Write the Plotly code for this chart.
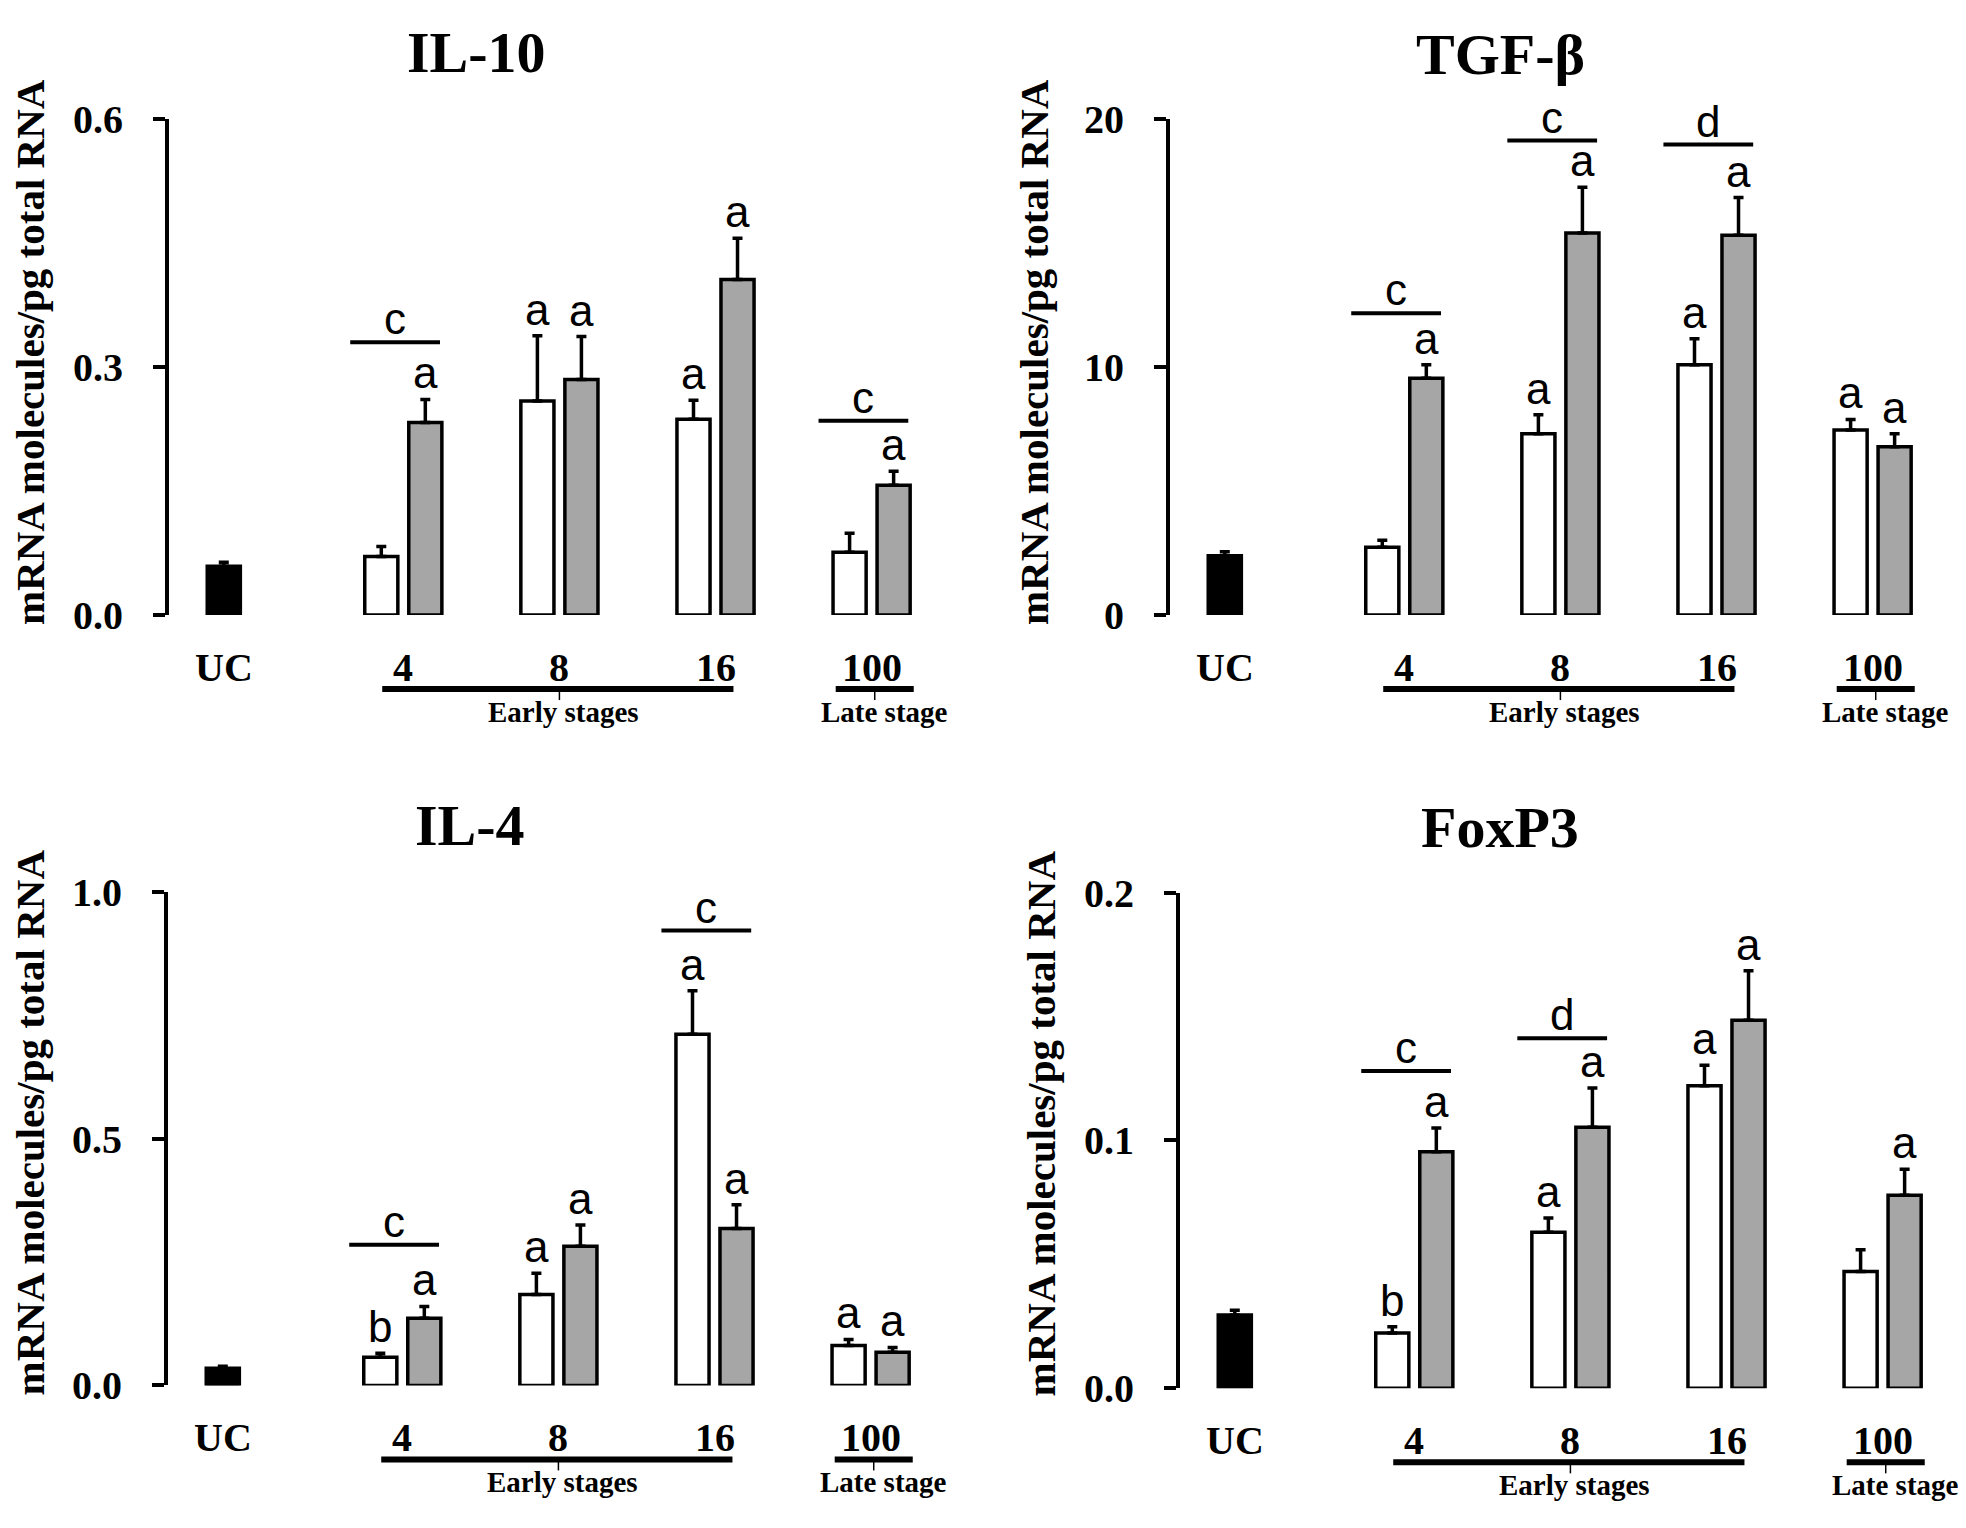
import plotly.graph_objects as go

# The page body has an 8px default margin; the figure is sized to fit the window exactly.
PAGE_W, PAGE_H = 1966, 1528
BODY = 8
W, H = PAGE_W - 2 * BODY, PAGE_H - 2 * BODY

# ---------------- data ----------------
groups = ["4", "8", "16", "100"]
uc_label = "UC"

# IL-10
il10_uc = [0.059]
il10_uc_err = [0.005]
il10_white = [0.071, 0.259, 0.237, 0.076]
il10_white_err = [0.012, 0.079, 0.023, 0.023]
il10_gray = [0.233, 0.285, 0.406, 0.157]
il10_gray_err = [0.028, 0.052, 0.050, 0.017]
il10_white_lbl = ["", "a", "a", ""]
il10_gray_lbl = ["a", "a", "a", "a"]
il10_bracket_lbl = ["c", "", "", "c"]
il10_bracket_y = [0.330, None, None, 0.235]
il10_ticks = [0.0, 0.3, 0.6]
il10_ticktext = ["0.0", "0.3", "0.6"]

# TGF-beta
tgf_uc = [2.39]
tgf_uc_err = [0.16]
tgf_white = [2.74, 7.31, 10.1, 7.46]
tgf_white_err = [0.28, 0.77, 1.05, 0.43]
tgf_gray = [9.55, 15.41, 15.32, 6.79]
tgf_gray_err = [0.55, 1.85, 1.52, 0.52]
tgf_white_lbl = ["", "a", "a", "a"]
tgf_gray_lbl = ["a", "a", "a", "a"]
tgf_bracket_lbl = ["c", "c", "d", ""]
tgf_bracket_y = [12.17, 19.14, 18.98, None]
tgf_ticks = [0, 10, 20]
tgf_ticktext = ["0", "10", "20"]

# IL-4
il4_uc = [0.035]
il4_uc_err = [0.004]
il4_white = [0.057, 0.184, 0.711, 0.081]
il4_white_err = [0.008, 0.043, 0.088, 0.012]
il4_gray = [0.136, 0.282, 0.318, 0.067]
il4_gray_err = [0.024, 0.043, 0.048, 0.010]
il4_white_lbl = ["b", "a", "a", "a"]
il4_gray_lbl = ["a", "a", "a", "a"]
il4_bracket_lbl = ["c", "", "c", ""]
il4_bracket_y = [0.285, None, 0.921, None]
il4_ticks = [0.0, 0.5, 1.0]
il4_ticktext = ["0.0", "0.5", "1.0"]

# FoxP3
fox_uc = [0.0296]
fox_uc_err = [0.0019]
fox_white = [0.0223, 0.063, 0.1221, 0.0471]
fox_white_err = [0.0025, 0.0057, 0.0082, 0.0088]
fox_gray = [0.0954, 0.1053, 0.1485, 0.0779]
fox_gray_err = [0.0096, 0.0159, 0.020, 0.0105]
fox_white_lbl = ["b", "a", "a", ""]
fox_gray_lbl = ["a", "a", "a", "a"]
fox_bracket_lbl = ["c", "d", "", ""]
fox_bracket_y = [0.128, 0.1412, None, None]
fox_ticks = [0.0, 0.1, 0.2]
fox_ticktext = ["0.0", "0.1", "0.2"]

# ---------------- layout constants ----------------
UC_POS = 0.0
GROUP_POS = [1.15, 2.15, 3.15, 4.15]
OFF = 0.141
BW = 0.212
XR = [-0.351, 4.55]
UNIT_PX = 156.1
PLOT_W = (XR[1] - XR[0]) * UNIT_PX

SERIF = "Liberation Serif, Times New Roman, serif"
SANS = "Liberation Sans, Arial, sans-serif"
GRAY = "#a6a6a6"


def px(x):
    return (x - BODY) / W


def py(y):
    return 1 - (y - BODY) / H


panels = [
    dict(title="IL-10", axis_x=169, zero_y=611, top_y=100, title_xy=(476, 31), ytitle_xy=(30, 340),
         uc=il10_uc, uc_err=il10_uc_err, white=il10_white, white_err=il10_white_err,
         gray=il10_gray, gray_err=il10_gray_err, wl=il10_white_lbl, gl=il10_gray_lbl,
         bl=il10_bracket_lbl, by=il10_bracket_y, ticks=il10_ticks, ticktext=il10_ticktext),
    dict(title="TGF-β", axis_x=1170, zero_y=611, top_y=100, title_xy=(1500, 33), ytitle_xy=(1034, 340),
         uc=tgf_uc, uc_err=tgf_uc_err, white=tgf_white, white_err=tgf_white_err,
         gray=tgf_gray, gray_err=tgf_gray_err, wl=tgf_white_lbl, gl=tgf_gray_lbl,
         bl=tgf_bracket_lbl, by=tgf_bracket_y, ticks=tgf_ticks, ticktext=tgf_ticktext),
    dict(title="IL-4", axis_x=168, zero_y=1405, top_y=896, title_xy=(470, 828), ytitle_xy=(30, 1134),
         uc=il4_uc, uc_err=il4_uc_err, white=il4_white, white_err=il4_white_err,
         gray=il4_gray, gray_err=il4_gray_err, wl=il4_white_lbl, gl=il4_gray_lbl,
         bl=il4_bracket_lbl, by=il4_bracket_y, ticks=il4_ticks, ticktext=il4_ticktext),
    dict(title="FoxP3", axis_x=1180, zero_y=1408, top_y=897, title_xy=(1500, 830), ytitle_xy=(1041, 1135),
         uc=fox_uc, uc_err=fox_uc_err, white=fox_white, white_err=fox_white_err,
         gray=fox_gray, gray_err=fox_gray_err, wl=fox_white_lbl, gl=fox_gray_lbl,
         bl=fox_bracket_lbl, by=fox_bracket_y, ticks=fox_ticks, ticktext=fox_ticktext),
]

fig = go.Figure()
annotations = []
shapes = []
layout_axes = {}


def err(arr):
    return dict(type="data", array=arr, arrayminus=[0] * len(arr), symmetric=False,
                color="black", thickness=3.5, width=5)


for i, p in enumerate(panels):
    n = "" if i == 0 else str(i + 1)
    xa, ya = "x" + n, "y" + n
    white_x = [g - OFF for g in GROUP_POS]
    gray_x = [g + OFF for g in GROUP_POS]

    fig.add_trace(go.Bar(x=[UC_POS], y=p["uc"], width=BW, xaxis=xa, yaxis=ya,
                         marker=dict(color="black", line=dict(color="black", width=3.5)),
                         error_y=err(p["uc_err"]), showlegend=False))
    fig.add_trace(go.Bar(x=white_x, y=p["white"], width=BW, xaxis=xa, yaxis=ya,
                         marker=dict(color="white", line=dict(color="black", width=3.5)),
                         error_y=err(p["white_err"]), showlegend=False))
    fig.add_trace(go.Bar(x=gray_x, y=p["gray"], width=BW, xaxis=xa, yaxis=ya,
                         marker=dict(color=GRAY, line=dict(color="black", width=3.5)),
                         error_y=err(p["gray_err"]), showlegend=False))

    ymax = p["ticks"][-1]
    layout_axes["xaxis" + n] = dict(domain=[px(p["axis_x"]), min(px(p["axis_x"] + PLOT_W), 1.0)],
                                    range=XR, anchor=ya, showline=False,
                                    showgrid=False, zeroline=False, showticklabels=False, ticks="")
    layout_axes["yaxis" + n] = dict(domain=[py(p["zero_y"]), py(p["top_y"])], range=[0, ymax],
                                    anchor=xa, showline=True,
                                    linewidth=4, linecolor="black", ticks="outside", ticklen=12,
                                    tickwidth=4, tickcolor="black", tickvals=p["ticks"],
                                    ticktext=["<b>%s</b>" % t for t in p["ticktext"]],
                                    tickfont=dict(family=SERIF, size=40, color="black"),
                                    ticklabelstandoff=22, showgrid=False, zeroline=False)

    # significance letters above bars
    for xs, vals, errs, lbls in ((white_x, p["white"], p["white_err"], p["wl"]),
                                 (gray_x, p["gray"], p["gray_err"], p["gl"])):
        for xv, v, e, l in zip(xs, vals, errs, lbls):
            if l:
                annotations.append(dict(x=xv, y=v + e, xref=xa, yref=ya, text=l, showarrow=False,
                                        yanchor="bottom", yshift=0,
                                        font=dict(family=SANS, size=44, color="black")))
    # group brackets with letters
    for g, l, yv in zip(GROUP_POS, p["bl"], p["by"]):
        if l:
            bx0, bx1 = g - 0.34, g + 0.235
            shapes.append(dict(type="line", xref=xa, yref=ya, x0=bx0, x1=bx1, y0=yv, y1=yv,
                               line=dict(color="black", width=4)))
            annotations.append(dict(x=(bx0 + bx1) / 2, y=yv, xref=xa, yref=ya, text=l,
                                    showarrow=False, yanchor="bottom", yshift=-3,
                                    font=dict(family=SANS, size=44, color="black")))

    # category labels
    for xv, t in zip([UC_POS] + GROUP_POS, [uc_label] + groups):
        annotations.append(dict(x=xv, y=0, xref=xa, yref=ya + " domain", text="<b>%s</b>" % t,
                                showarrow=False, yanchor="middle", yshift=-52,
                                font=dict(family=SERIF, size=40, color="black")))
    # stage underlines
    yd = ya + " domain"
    early = (GROUP_POS[0] - 0.135, GROUP_POS[2] + 0.115)
    late = (GROUP_POS[3] - 0.23, GROUP_POS[3] + 0.27)
    for (a, b), mid, txt, tx in ((early, GROUP_POS[1], "Early stages", 2.175),
                                 (late, GROUP_POS[3] + 0.02, "Late stage", GROUP_POS[3] + 0.08)):
        shapes.append(dict(type="line", xref=xa, yref=yd, ysizemode="pixel", yanchor=0,
                           x0=a, x1=b, y0=-74, y1=-74, line=dict(color="black", width=6)))
        shapes.append(dict(type="line", xref=xa, yref=yd, ysizemode="pixel", yanchor=0,
                           x0=mid, x1=mid, y0=-74, y1=-85, line=dict(color="black", width=1.5)))
        annotations.append(dict(x=tx, y=0, xref=xa, yref=yd, text="<b>%s</b>" % txt,
                                showarrow=False, yanchor="middle", yshift=-97,
                                font=dict(family=SERIF, size=29, color="black")))

    # panel title
    tx, ty = p["title_xy"]
    annotations.append(dict(x=px(tx), y=py(ty), xref="paper", yref="paper",
                            text="<b>%s</b>" % p["title"], showarrow=False,
                            xanchor="center", yanchor="middle",
                            font=dict(family=SERIF, size=58, color="black")))
    # y-axis title
    tx, ty = p["ytitle_xy"]
    annotations.append(dict(x=px(tx), y=py(ty), xref="paper", yref="paper",
                            text="<b>mRNA molecules/pg total RNA</b>", showarrow=False,
                            textangle=-90, xanchor="center", yanchor="middle",
                            font=dict(family=SERIF, size=41, color="black")))

fig.update_layout(width=W, height=H, margin=dict(l=0, r=0, t=0, b=0),
                  paper_bgcolor="white", plot_bgcolor="white", barmode="overlay",
                  annotations=annotations, shapes=shapes, **layout_axes)

fig.write_html("out.html", config={"displayModeBar": False})
